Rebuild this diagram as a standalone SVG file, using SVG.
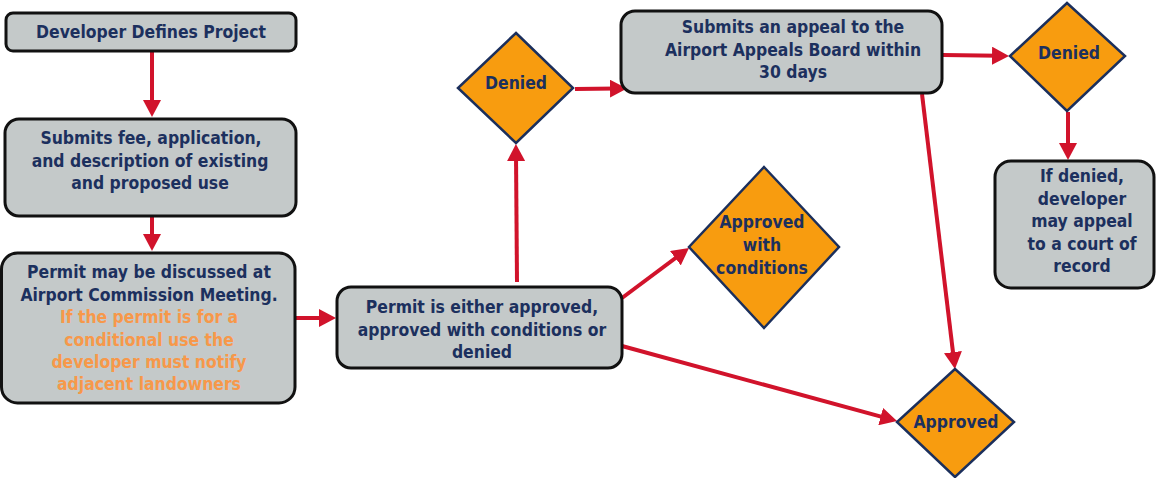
<svg xmlns="http://www.w3.org/2000/svg" width="1156" height="478" viewBox="0 0 1156 478">
<style>
.box{fill:#C4C9C9;stroke:#111;stroke-width:3}
.dia{fill:#F89C0F;stroke:#1B2F5C;stroke-width:2.5;stroke-linejoin:miter}
text{font-family:"DejaVu Sans Condensed","DejaVu Sans",sans-serif;font-stretch:condensed;font-weight:bold;font-size:17.4px;fill:#1C305E;text-anchor:middle}
text .o{fill:#F7984A}
.con line{stroke:#D1132B;stroke-width:4;marker-end:url(#ah)}
</style>
<defs>
<marker id="ah" markerUnits="userSpaceOnUse" markerWidth="18" markerHeight="18" refX="7" refY="9" orient="auto">
<path d="M0,0 L17,9 L0,18 z" fill="#D1132B"/>
</marker>
</defs>
<rect width="1156" height="478" fill="#fff"/>
<g class="con" id="connectors">
<line x1="152" y1="52" x2="152" y2="107"/>
<line x1="152" y1="216" x2="152" y2="241"/>
<line x1="296" y1="318" x2="326" y2="318"/>
<line x1="517" y1="282" x2="516" y2="154"/>
<line x1="575" y1="89" x2="617" y2="88.5"/>
<line x1="622" y1="298" x2="681" y2="254"/>
<line x1="622" y1="346" x2="887.4" y2="418.4"/>
<line x1="943" y1="55" x2="999" y2="55.8"/>
<line x1="1068" y1="112" x2="1068" y2="150"/>
<line x1="922" y1="94" x2="953.8" y2="359.1"/>
</g>
<g id="n1"><rect class="box" x="6" y="13" width="290" height="38" rx="7"/><text x="151" y="38">Developer Defines Project</text></g>
<g id="n2"><rect class="box" x="5" y="119" width="291" height="97" rx="14"/>
<text x="151"><tspan x="151" y="144">Submits fee, application,</tspan><tspan x="150" y="167">and description of existing</tspan><tspan x="150" y="189">and proposed use</tspan></text></g>
<g id="n3"><rect class="box" x="1.5" y="253" width="293.5" height="150" rx="16"/>
<text><tspan x="149" y="278">Permit may be discussed at</tspan><tspan x="149" y="300.5">Airport Commission Meeting.</tspan><tspan class="o" x="149" y="323">If the permit is for a</tspan><tspan class="o" x="149" y="345.5">conditional use the</tspan><tspan class="o" x="149" y="368">developer must notify</tspan><tspan class="o" x="149" y="390">adjacent landowners</tspan></text></g>
<g id="n4"><rect class="box" x="337" y="287" width="285" height="81" rx="14"/>
<text><tspan x="482" y="313">Permit is either approved,</tspan><tspan x="482" y="336">approved with conditions or</tspan><tspan x="482" y="358">denied</tspan></text></g>
<g id="n5"><polygon class="dia" points="516,33 573,88 516,143 458,88"/><text x="516" y="89">Denied</text></g>
<g id="n6"><rect class="box" x="621" y="11" width="321" height="82" rx="14"/>
<text><tspan x="793" y="33">Submits an appeal to the</tspan><tspan x="793" y="56">Airport Appeals Board within</tspan><tspan x="793" y="78">30 days</tspan></text></g>
<g id="n7"><polygon class="dia" points="1067,3 1125,56 1067,111 1010,56"/><text x="1069" y="59">Denied</text></g>
<g id="n8"><rect class="box" x="995" y="161" width="159" height="127" rx="16"/>
<text><tspan x="1082" y="182">If denied,</tspan><tspan x="1082" y="205">developer</tspan><tspan x="1082" y="227">may appeal</tspan><tspan x="1082" y="250">to a court of</tspan><tspan x="1082" y="272">record</tspan></text></g>
<g id="n9"><polygon class="dia" points="764,167 839,247 764,328 689,247"/>
<text><tspan x="762" y="228">Approved</tspan><tspan x="762" y="251">with</tspan><tspan x="762" y="274">conditions</tspan></text></g>
<g id="n10"><polygon class="dia" points="955,369 1014,422 955,477 897,422"/><text x="956" y="428">Approved</text></g>
</svg>
